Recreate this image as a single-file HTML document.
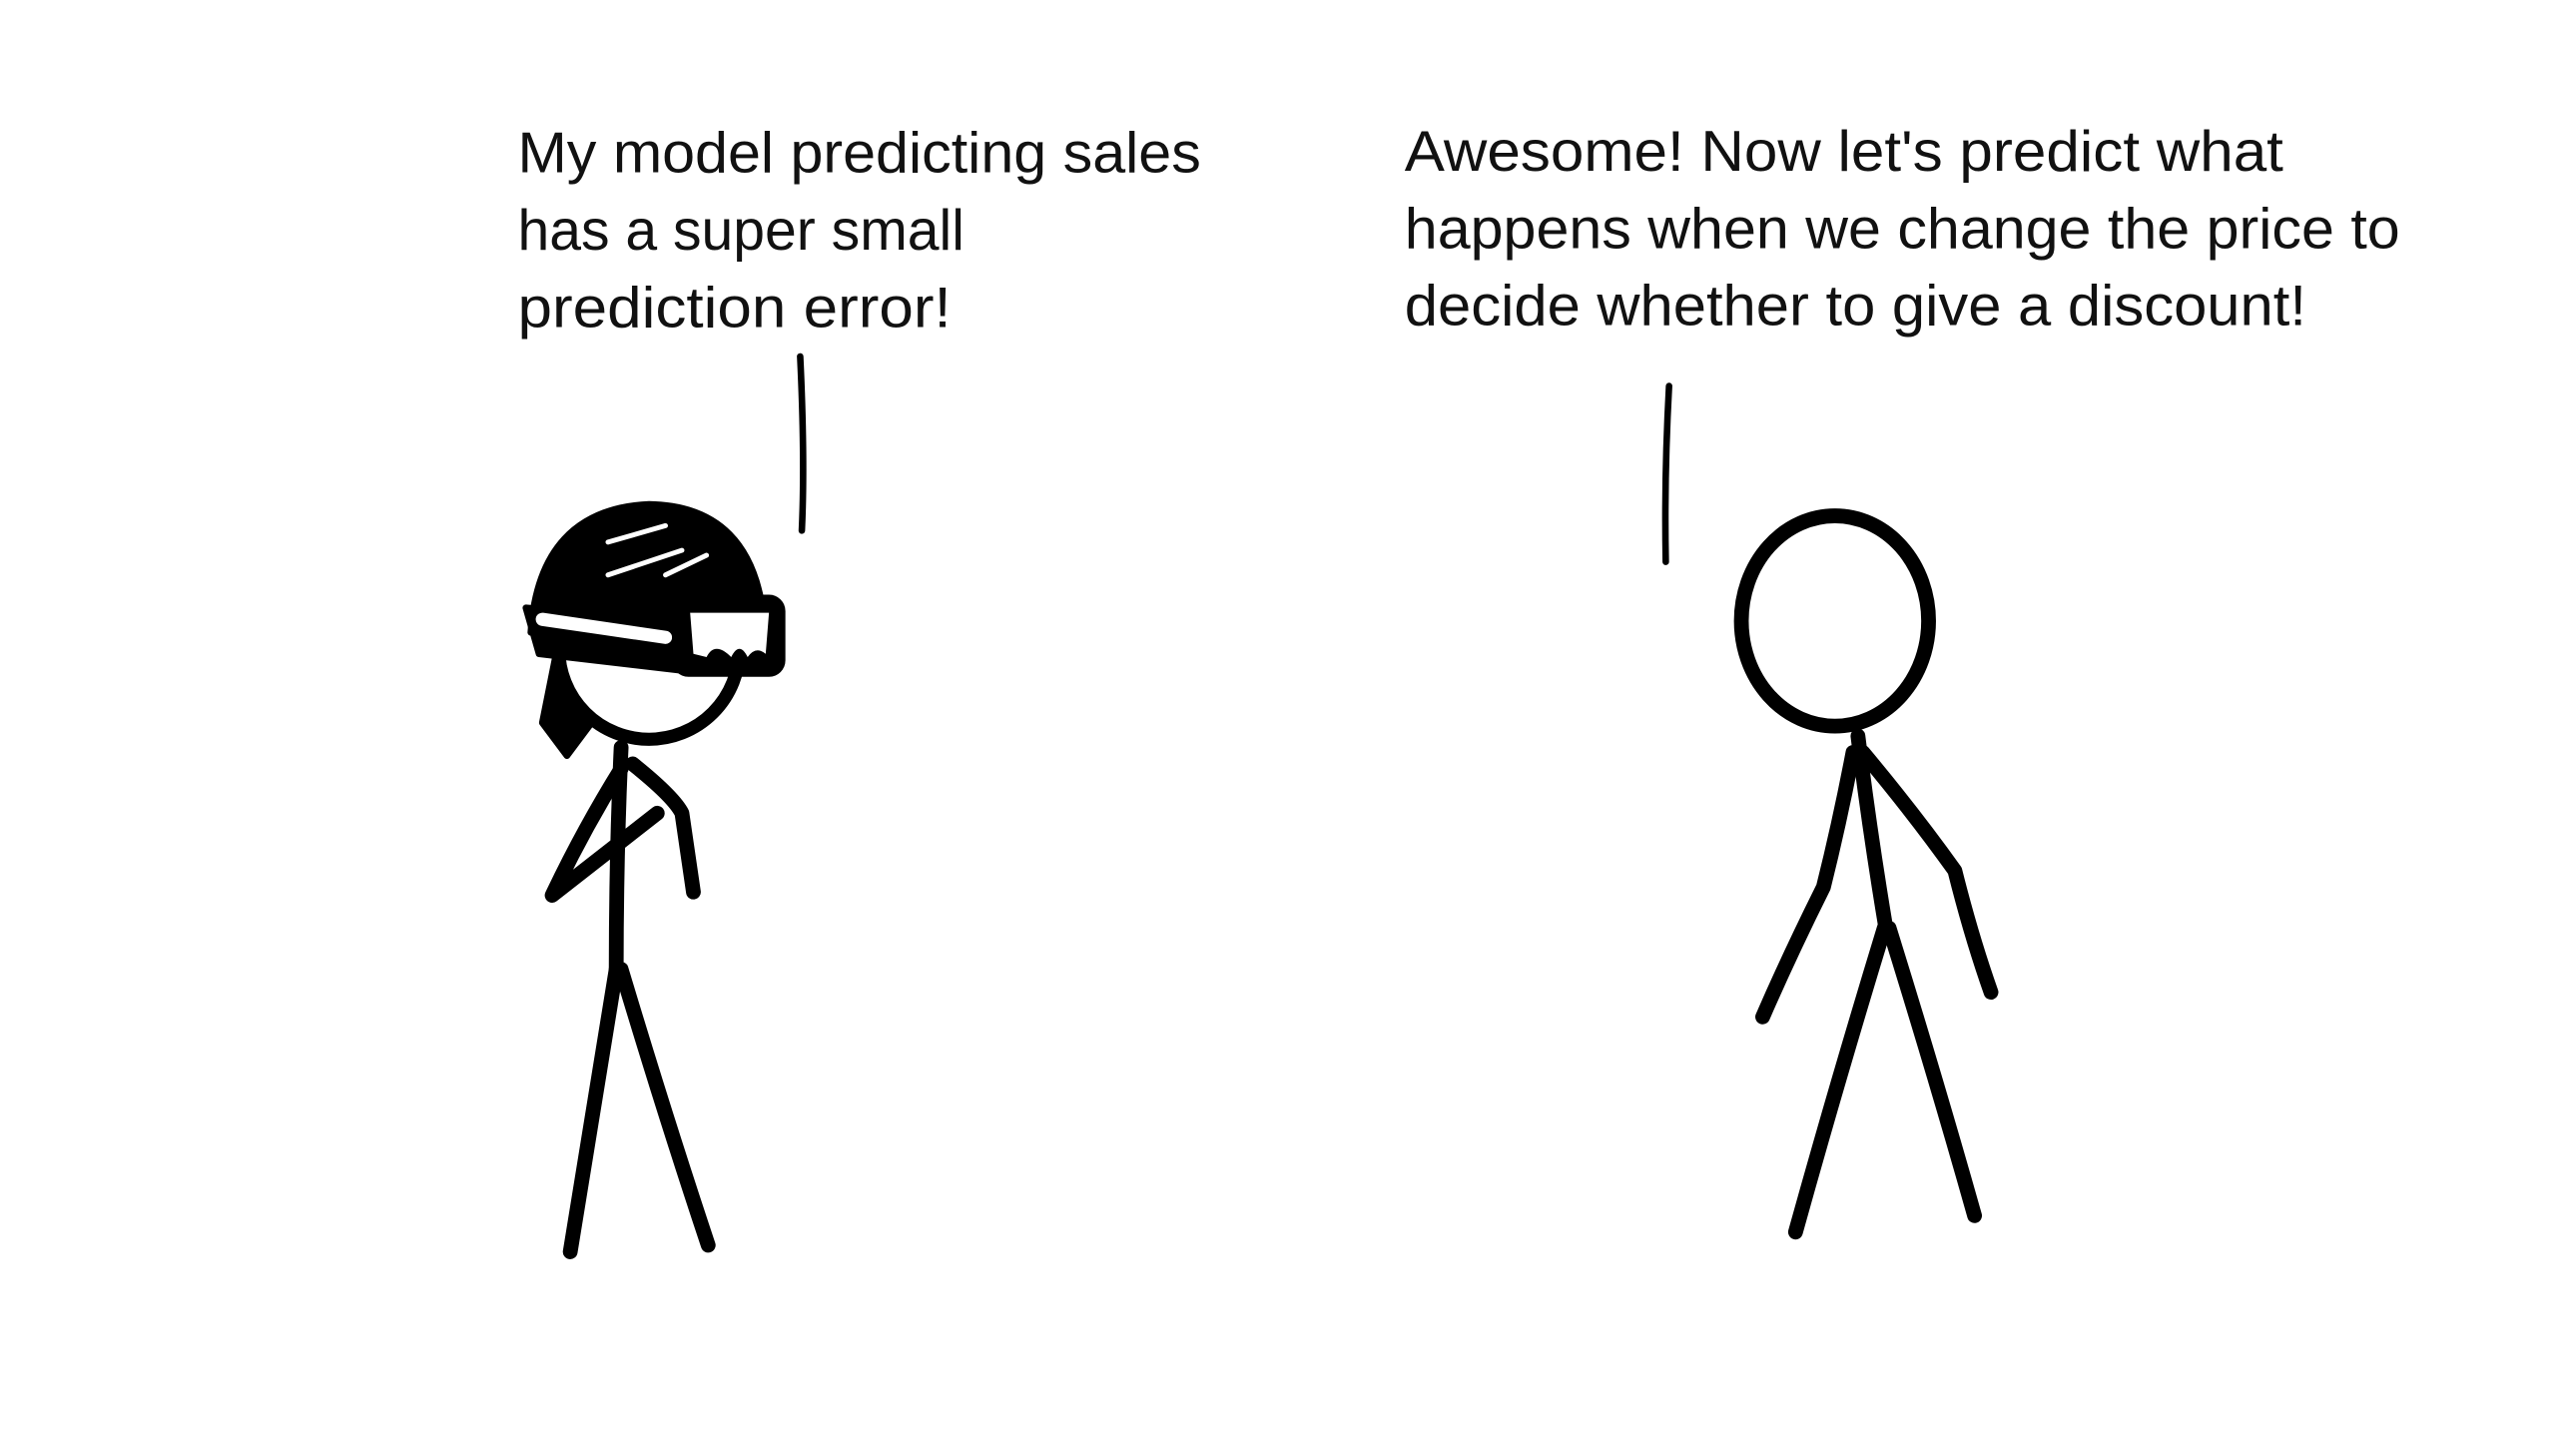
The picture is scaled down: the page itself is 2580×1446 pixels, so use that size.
<!DOCTYPE html>
<html><head><meta charset="utf-8"><style>
html,body{margin:0;padding:0;background:#fff;}
svg{display:block;}
text{font-family:"Liberation Sans",sans-serif;font-size:35px;fill:#111;}
</style></head><body>
<svg width="2580" height="1446" viewBox="0 0 1568 879">
<rect width="1568" height="879" fill="#fff"/>
<g>
<text x="315" y="105" textLength="416" lengthAdjust="spacingAndGlyphs">My model predicting sales</text>
<text x="315" y="152" textLength="272" lengthAdjust="spacingAndGlyphs">has a super small</text>
<text x="315" y="199" textLength="264" lengthAdjust="spacingAndGlyphs">prediction error!</text>
</g>
<g>
<text x="855" y="104" textLength="535" lengthAdjust="spacingAndGlyphs">Awesome! Now let's predict what</text>
<text x="855" y="151" textLength="606" lengthAdjust="spacingAndGlyphs">happens when we change the price to</text>
<text x="855" y="198" textLength="549" lengthAdjust="spacingAndGlyphs">decide whether to give a discount!</text>
</g>
<g fill="none" stroke="#000" stroke-linecap="round" stroke-linejoin="round">
<path d="M487 217 Q490 280 488 323" stroke-width="4"/>
<path d="M1016 235 Q1013 290 1014 342" stroke-width="4"/>
</g>
<g stroke="#000" stroke-linecap="round" stroke-linejoin="round">
<path d="M340 390 L330 440 L345 460 L360 440 Z" fill="#000" stroke-width="4"/>
<circle cx="395" cy="395" r="55" fill="#fff" stroke-width="8"/>
<path d="M323 385 Q328 310 395 307 Q458 308 465 378 Z" fill="#000" stroke-width="4"/>
<path d="M320 370 L412 378 L414 408 L328 398 Z" fill="#000" stroke-width="4"/>
<path d="M330 377 L405 388" stroke="#fff" stroke-width="8"/>
<rect x="410" y="363" width="67" height="48" rx="9" fill="#000" stroke-width="2"/>
<path d="M420 373 L468 373 L466 398 Q460 393 455 400 Q450 390 445 400 Q435 390 430 400 L422 398 Z" fill="#fff" stroke="none"/>
<path d="M370 330 L405 320 M370 350 L415 335 M405 350 L430 338" stroke="#fff" stroke-width="3"/>
<g fill="none" stroke-width="9">
<path d="M378 455 Q375 520 375 590"/>
<path d="M375 590 Q360 680 347 762"/>
<path d="M378 590 Q405 680 431 758"/>
<path d="M378 468 Q355 505 336 545 L400 495"/>
<path d="M385 465 Q410 485 415 495 L422 543"/>
</g>
</g>
<g fill="none" stroke="#000" stroke-width="9" stroke-linecap="round" stroke-linejoin="round">
<ellipse cx="1117" cy="378" rx="57" ry="64"/>
<path d="M1131 448 Q1138 505 1148 565"/>
<path d="M1147 565 Q1118 660 1093 750"/>
<path d="M1150 565 Q1178 655 1202 740"/>
<path d="M1128 458 Q1120 500 1110 540 Q1090 580 1073 619"/>
<path d="M1134 458 Q1165 495 1190 530 Q1200 570 1212 604"/>
</g>
</svg>
</body></html>
